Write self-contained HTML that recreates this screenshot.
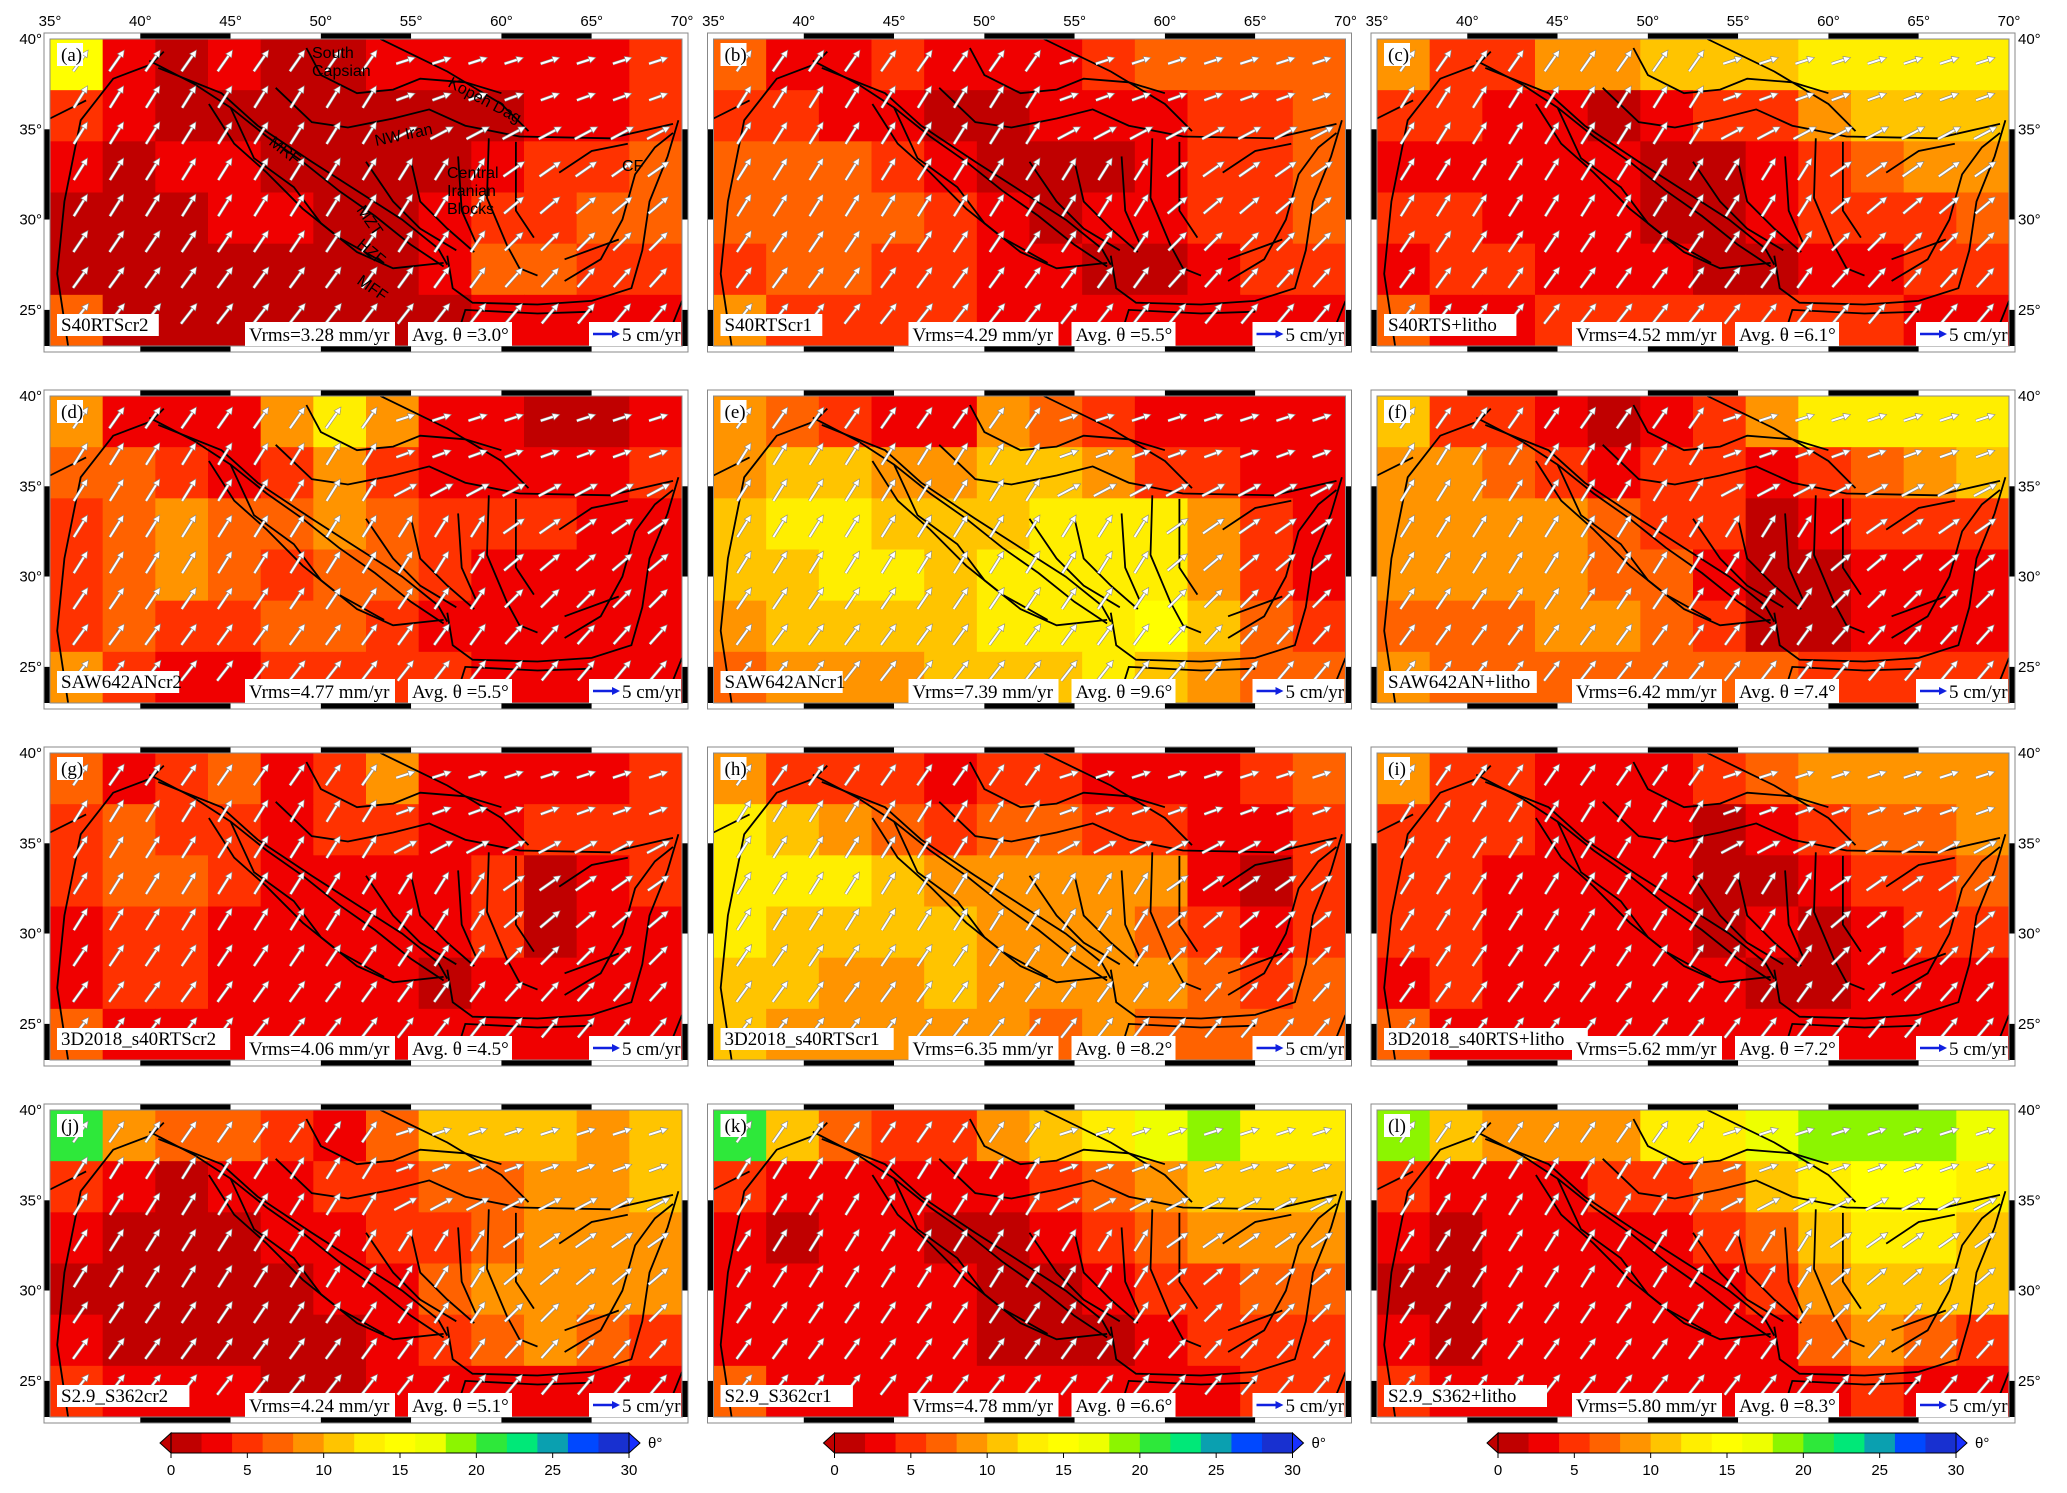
<!DOCTYPE html>
<html><head><meta charset="utf-8">
<style>
html,body{margin:0;padding:0;background:#fff;}
svg{display:block;}
.tk{font-family:"Liberation Sans",sans-serif;font-size:15px;fill:#000;}
.bx{font-family:"Liberation Serif",serif;font-size:19px;fill:#000;}
.ann{font-family:"Liberation Sans",sans-serif;font-size:16px;fill:#000;}
</style></head>
<body>
<svg id="fig" width="2067" height="1493" viewBox="0 0 2067 1493" xmlns="http://www.w3.org/2000/svg"></svg>
<script>
// ---- data ----
const panelLetters = ["a","b","c","d","e","f","g","h","i","j","k","l"];
const modelNames = ["S40RTScr2","S40RTScr1","S40RTS+litho","SAW642ANcr2","SAW642ANcr1","SAW642AN+litho","3D2018_s40RTScr2","3D2018_s40RTScr1","3D2018_s40RTS+litho","S2.9_S362cr2","S2.9_S362cr1","S2.9_S362+litho"];
const vrmsValues = ["3.28","4.29","4.52","4.77","7.39","6.42","4.06","6.35","5.62","4.24","4.78","5.80"];
const avgTheta = ["3.0","5.5","6.1","5.5","9.6","7.4","4.5","8.2","7.2","5.1","6.6","8.3"];
const lonTicks = [35,40,45,50,55,60,65,70];
const latTicks = [40,35,30,25];
const cbTicks = [0,5,10,15,20,25,30];
const cbLevels = [0,2,4,6,8,10,12,14,16,18,20,22,24,26,28,30];
const cbColors = ["#c00000","#f00000","#ff3200","#ff6200","#ff9400","#ffc400","#ffee00","#ffff00","#eeff00","#8cf500","#2ee83a","#00e878","#0aa0b0","#0048ff","#1830d0"];
// theta grids: 6 rows (north->south) x 12 cols (west->east)
const thetaA=[[14,3,1,3,1,1,3,3,3,3,3,5],[5,3,1,1,1,1,1,1,1,3,3,5],[3,1,3,3,1,1,1,1,3,5,5,7],[1,1,1,3,3,1,1,3,5,5,7,7],[1,1,1,1,1,1,1,3,7,7,5,5],[7,1,1,1,1,1,1,1,3,3,3,3]];
const thetaB=[[7,3,3,5,3,3,3,5,7,7,7,7],[5,5,3,3,1,1,3,3,3,5,5,7],[7,7,7,5,3,1,1,1,3,5,5,7],[7,7,7,7,5,3,1,3,3,5,5,7],[5,7,7,5,5,3,3,1,1,3,5,5],[9,5,5,5,5,3,3,3,3,3,3,3]];
const thetaC=[[9,5,5,9,9,11,11,11,13,13,13,13],[5,5,3,3,1,3,5,5,9,11,11,11],[3,3,3,3,3,1,1,3,5,7,9,9],[5,5,3,3,3,1,1,3,5,5,5,7],[3,5,5,3,3,3,1,1,3,3,5,5],[7,3,3,5,5,5,5,5,5,5,3,3]];
const thetaD=[[9,3,3,3,9,13,9,3,3,1,1,3],[7,7,5,3,5,9,5,3,3,3,3,5],[5,7,9,7,7,9,7,5,5,5,3,3],[5,7,9,7,5,7,7,5,3,3,3,3],[5,7,5,5,7,7,5,3,3,3,3,3],[9,5,3,3,5,5,5,5,3,3,3,3]];
const thetaE=[[9,7,5,3,3,9,7,5,3,3,3,3],[9,11,11,9,9,11,11,9,5,5,3,3],[11,13,13,11,11,11,13,13,13,9,5,3],[11,11,13,13,11,13,13,13,13,9,5,3],[9,11,11,11,11,13,13,13,15,11,7,5],[7,9,9,9,11,11,11,13,11,9,7,7]];
const thetaF=[[11,5,5,3,1,3,5,9,13,13,13,13],[9,9,7,5,3,5,5,3,5,7,9,11],[9,9,9,9,7,5,5,1,3,5,5,5],[9,9,9,9,7,7,3,1,1,3,3,3],[7,7,7,9,9,7,5,1,1,3,3,3],[9,7,7,7,7,7,7,7,5,5,5,5]];
const thetaG=[[7,3,5,7,3,5,9,3,3,3,3,5],[5,7,5,5,3,5,5,3,3,5,5,5],[5,7,7,5,3,3,3,3,5,1,3,5],[3,5,5,3,3,3,3,3,5,1,3,3],[3,5,5,3,3,3,3,1,3,3,3,3],[7,3,3,3,3,3,3,3,3,3,3,3]];
const thetaH=[[9,5,5,5,3,5,5,3,3,3,5,7],[13,11,9,7,5,7,7,5,5,3,3,5],[13,13,13,11,9,9,9,9,9,3,1,5],[13,11,11,11,11,9,9,9,7,5,3,5],[11,11,9,9,11,9,9,9,9,7,5,7],[11,9,9,9,9,9,7,9,7,7,7,7]];
const thetaI=[[9,5,5,3,3,3,5,7,9,9,9,9],[5,5,5,3,3,3,1,3,5,7,7,9],[5,5,3,3,3,3,1,1,3,5,5,7],[5,5,3,3,3,3,1,3,1,3,5,5],[3,5,3,3,3,3,3,1,1,3,3,3],[7,3,3,3,3,3,3,3,3,3,3,3]];
const thetaJ=[[20,9,7,7,5,3,7,11,11,11,9,11],[5,3,1,3,3,5,5,7,7,9,9,11],[3,1,1,1,3,3,5,5,7,9,9,9],[1,1,1,1,1,3,3,7,9,9,9,9],[3,1,1,1,1,1,3,5,7,9,7,5],[5,3,3,3,1,1,3,3,3,3,3,3]];
const thetaK=[[20,11,7,5,5,9,11,13,16,18,13,13],[5,3,3,3,3,3,5,7,9,11,11,11],[3,1,3,3,1,1,3,5,7,9,9,9],[3,3,3,3,3,1,1,3,5,5,7,7],[3,3,3,3,3,1,1,1,3,5,5,5],[7,3,3,3,3,3,3,3,3,3,5,5]];
const thetaL=[[18,11,9,9,9,13,13,17,18,18,18,16],[5,3,3,3,5,5,7,11,13,15,14,13],[3,1,3,3,3,3,5,7,11,13,13,11],[1,1,3,3,3,3,3,5,9,11,11,11],[3,1,3,3,3,3,3,3,7,9,7,5],[5,3,3,3,3,3,3,3,3,5,3,3]];
const thetaGrids=[thetaA,thetaB,thetaC,thetaD,thetaE,thetaF,thetaG,thetaH,thetaI,thetaJ,thetaK,thetaL];
// arrow grid (lon/lat) and azimuths per row (deg from north), west part / east part
const arrowLons=[36.7,38.7,40.7,42.7,44.7,46.7,48.7,50.7,52.7,54.7,56.7,58.7,60.7,62.7,64.7,66.7,68.7];
const arrowLats=[38.8,36.8,34.8,32.8,30.8,28.8,26.8,24.8];
const arrowAzWest=[35,32,32,32,32,34,36,38];
const arrowAzEast=[72,70,62,55,50,45,42,40];
// faults (lon,lat)
const faults=[
 [[40.5,38.8],[43,37.5],[45,36.2],[47,34.6],[49,33.2],[51,31.6],[53,30.2],[55,28.6],[56.8,27.4]],
 [[41,38.4],[44.5,37],[46.5,35.2],[49.5,33.2],[52,31.6],[54.5,30],[56.5,28.4],[57,27.5]],
 [[45,36.2],[46.3,33.4],[48.5,31.8],[50,29.8],[52,28.2],[54,27.3],[56.8,27.6]],
 [[43.8,36.4],[45.2,34.2],[47,32.6],[49,30.6],[51,29],[53.5,27.6]],
 [[47.5,37.3],[49.5,35.4],[51.5,35.1],[54,35.6],[56,36.1],[58,35.2],[61,34.6],[66,34.5],[69.5,35.3]],
 [[53.3,40],[57,38.2],[60,36.4],[61.5,34.9]],
 [[49.2,39.5],[50,38],[52,37],[54,37.2],[55.5,37.8],[58,37.6],[60,37]],
 [[36,23],[35.4,27],[35.8,31],[36.7,35.5],[38.5,37.8],[40.6,38.6],[41.3,39.3]],
 [[35,35.6],[37,36.6]],
 [[55,33.2],[55.5,31],[57,29.5],[58.5,28.2]],
 [[57.6,33.5],[57.8,30.5],[58.6,28.7]],
 [[59.3,34.5],[59.2,31.2],[60.3,28.6],[61,27.3],[62,26.9]],
 [[60.8,34.3],[60.8,30.5],[61.8,29]],
 [[52.5,33.2],[54,31],[55.5,29.5],[57.5,28.3]],
 [[57,28],[57.3,26.2],[58.4,25.4],[62,25.3],[65,25.5],[67.2,26.2],[67.8,28.3],[68.2,31],[69.2,33.5],[69.8,35.5]],
 [[63.5,26.6],[65.5,27.8],[66.7,30],[67.4,32.5],[68.5,34],[69.5,34.8]],
 [[63.2,32.6],[65,33.8],[67,34.2]],
 [[63.5,27.8],[66.5,28.9]],
 [[57.5,23.4],[58,25],[62,24.8],[65,24.9]],
 [[69,23],[70,25.5]]
];
// ---- geometry ----
const colX=[50,713.5,1377], rowY=[39,396,753,1110];
const PW=632, PH=307, LON0=35, LON1=70, LAT0=23, LAT1=40;
const NS="http://www.w3.org/2000/svg";
const svg=document.getElementById('fig');
function el(tag,attrs,parent){const e=document.createElementNS(NS,tag);for(const k in attrs)e.setAttribute(k,attrs[k]);(parent||svg).appendChild(e);return e;}
function colorOf(v){for(let i=0;i<cbColors.length;i++){if(v<cbLevels[i+1])return cbColors[i];}return cbColors[cbColors.length-1];}

for(let p=0;p<12;p++){
  const c=p%3, r=Math.floor(p/3);
  const x0=colX[c], y0=rowY[r];
  const xs=lon=>x0+(lon-LON0)/(LON1-LON0)*PW;
  const ys=lat=>y0+(LAT1-lat)/(LAT1-LAT0)*PH;
  const g=el('g',{});
  
  
  const grid=thetaGrids[p];
  const nR=grid.length,nC=grid[0].length;
  const hm=el('g',{},g);
  
  
  for(let i=0;i<nR;i++)for(let j=0;j<nC;j++){
    const la=LAT1-i*(LAT1-LAT0)/nR, lb=LAT1-(i+1)*(LAT1-LAT0)/nR;
    const loa=LON0+j*(LON1-LON0)/nC, lob=LON0+(j+1)*(LON1-LON0)/nC;
    const cell=el('rect',{x:xs(loa),y:ys(la),width:xs(lob)-xs(loa)+0.6,height:ys(lb)-ys(la)+0.6,fill:colorOf(grid[i][j])},hm);
    
    
  }
  const fg=el('g',{},g);
  
  
  faults.forEach(f=>{
    const pl=el('polyline',{points:f.map(q=>xs(q[0]).toFixed(1)+','+ys(q[1]).toFixed(1)).join(' '),fill:'none',stroke:'#000','stroke-width':1.8},fg);
    
    
  });
  const ag=el('g',{},g);
  
  
  arrowLats.forEach((la,ri)=>arrowLons.forEach(lo=>{
    const east = la>33 ? lo>54 : lo>60;
    const az=(east?arrowAzEast[ri]:arrowAzWest[ri])*Math.PI/180;
    const L=east&&la>36?20:26;
    const cx=xs(lo),cy=ys(la);
    const dx=Math.sin(az)*L/2, dy=-Math.cos(az)*L/2;
    const x1=cx-dx,y1=cy-dy,x2=cx+dx,y2=cy+dy;
    const ux=dx/(L/2),uy=dy/(L/2);
    const hx=x2-ux*7,hy=y2-uy*7;
    const a=el('g',{},ag);
    
    
    el('line',{x1:x1,y1:y1,x2:hx,y2:hy,stroke:'#888','stroke-width':3.2},a);
    el('line',{x1:x1,y1:y1,x2:hx,y2:hy,stroke:'#fff','stroke-width':2},a);
    el('polygon',{points:`${x2},${y2} ${hx-uy*3.5},${hy+ux*3.5} ${hx+uy*3.5},${hy-ux*3.5}`,fill:'#fff',stroke:'#888','stroke-width':0.6},a);
  }));
  const fr=el('g',{},g);
  
  
  el('rect',{x:x0-6,y:y0-6,width:PW+12,height:PH+12,fill:'none',stroke:'#888','stroke-width':1},fr);
  el('rect',{x:x0,y:y0,width:PW,height:PH,fill:'none',stroke:'#888','stroke-width':1},fr);
  for(let k=0;k<7;k++){
    const a=xs(35+5*k), b=xs(40+5*k);
    const f = k%2===1 ? '#000':'#fff';
    el('rect',{x:a,y:y0-5.5,width:b-a,height:5,fill:f},fr);
    el('rect',{x:a,y:y0+PH+0.5,width:b-a,height:5,fill:f},fr);
  }
  const latB=[[40,35,'#fff'],[35,30,'#000'],[30,25,'#fff'],[25,23,'#000']];
  latB.forEach(s=>{
    el('rect',{x:x0-5.5,y:ys(s[0]),width:5,height:ys(s[1])-ys(s[0]),fill:s[2]},fr);
    el('rect',{x:x0+PW+0.5,y:ys(s[0]),width:5,height:ys(s[1])-ys(s[0]),fill:s[2]},fr);
  });
  if(r===0){lonTicks.forEach(t=>{const tl=el('text',{x:xs(t),y:y0-13,'text-anchor':'middle',class:'tk'},g);tl.textContent=t+'°';});}
  if(c===0){latTicks.forEach(t=>{const tl=el('text',{x:x0-8,y:ys(t)+5,'text-anchor':'end',class:'tk'},g);tl.textContent=t+'°';});}
  if(c===2){latTicks.forEach(t=>{const tl=el('text',{x:x0+PW+9,y:ys(t)+5,'text-anchor':'start',class:'tk'},g);tl.textContent=t+'°';});}
  function box(x,y,w,h,txt,name){
    const bg=el('g',{},g);
    
    
    el('rect',{x:x,y:y,width:w,height:h,fill:'#fff'},bg);
    const t=el('text',{x:x+4,y:y+h-5,class:'bx'},bg);
    t.textContent=txt;
    return bg;
  }
  box(x0+7,y0+4,26,23,'('+panelLetters[p]+')','panel-letter');
  box(x0+7,y0+PH-32,10+modelNames[p].length*10.2,22,modelNames[p],'model-name');
  box(x0+195,y0+PH-24,150,24,'Vrms='+vrmsValues[p]+' mm/yr','vrms-label');
  box(x0+358,y0+PH-24,104,24,'Avg. θ ='+avgTheta[p]+'°','avg-theta-label');
  const sb=box(x0+539,y0+PH-24,92,24,'','scale-arrow-box');
  el('line',{x1:x0+543,y1:y0+PH-12,x2:x0+563,y2:y0+PH-12,stroke:'#1020e0','stroke-width':2.5},sb);
  el('polygon',{points:`${x0+570},${y0+PH-12} ${x0+562},${y0+PH-16} ${x0+562},${y0+PH-8}`,fill:'#1020e0'},sb);
  const st=el('text',{x:x0+572,y:y0+PH-5,class:'bx'},sb);st.textContent='5 cm/yr';
  if(p===0){
    const anns=[["South",312,58,0],["Capsian",312,76,0],["Kopeh Dag",447,86,28],["NW Iran",376,146,-12],["MRF",268,144,38],["MZT",356,210,55],["HZF",356,246,40],["MFF",356,283,35],["Central",447,178,0],["Iranian",447,196,0],["Blocks",447,214,0],["CF",622,171,0]];
    anns.forEach(a=>{const t=el('text',{x:a[1],y:a[2],class:'ann',transform:`rotate(${a[3]} ${a[1]} ${a[2]})`},g);t.textContent=a[0];});
  }
}
for(let c=0;c<3;c++){
  const L=colX[c]+121, W=458, top=1433, H=20;
  const cs=v=>L+v/30*W;
  const g=el('g',{});
  
  
  for(let i=0;i<cbColors.length;i++){
    el('rect',{x:cs(cbLevels[i]),y:top,width:cs(cbLevels[i+1])-cs(cbLevels[i])+0.5,height:H,fill:cbColors[i]},g);
  }
  el('polygon',{points:`${L},${top} ${L-11},${top+H/2} ${L},${top+H}`,fill:cbColors[0],stroke:'#000','stroke-width':1},g);
  el('polygon',{points:`${L+W},${top} ${L+W+11},${top+H/2} ${L+W},${top+H}`,fill:'#1830ff',stroke:'#000','stroke-width':1},g);
  el('rect',{x:L,y:top,width:W,height:H,fill:'none',stroke:'#000','stroke-width':1},g);
  cbTicks.forEach(t=>{
    el('line',{x1:cs(t),y1:top+H,x2:cs(t),y2:top+H+5,stroke:'#000'},g);
    const tl=el('text',{x:cs(t),y:top+H+22,'text-anchor':'middle',class:'tk'},g);
    tl.textContent=t;
    
    
  });
  const th=el('text',{x:L+W+19,y:top+H/2+5,class:'tk'},g);th.textContent='θ°';
}
</script>
</body></html>
